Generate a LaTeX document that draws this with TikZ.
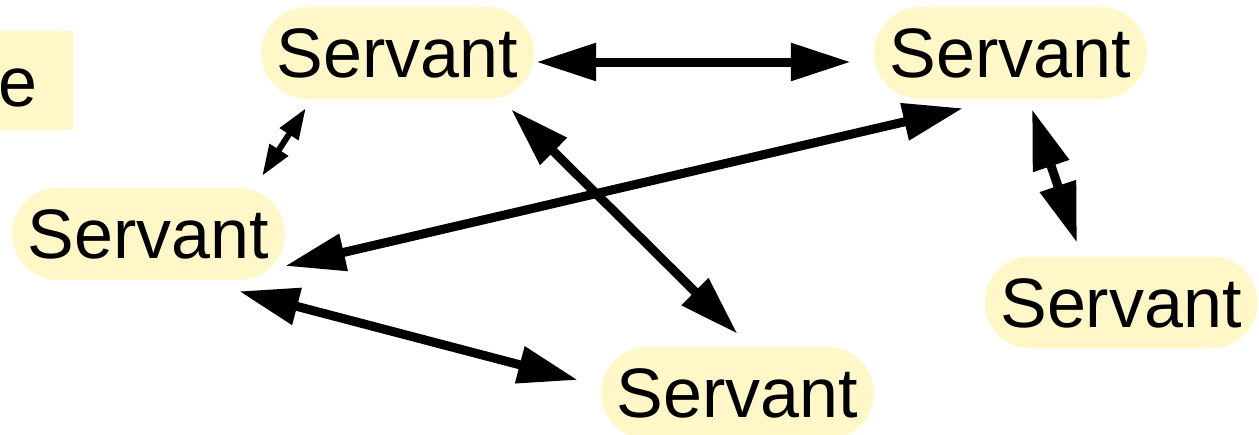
\documentclass[tikz,border=0pt]{standalone}
\usepackage{fontspec}
\setmainfont{Liberation Sans}
\usetikzlibrary{arrows.meta,calc}
\definecolor{pill}{RGB}{255,247,200}
\tikzset{
  servant/.style={rectangle, rounded corners=46pt, fill=pill, minimum width=273pt,
    minimum height=92pt, inner sep=0pt, text height=49pt, text depth=0pt,
    font=\fontsize{70}{80}\selectfont},
  biarrow/.style={line width=9pt, {Triangle[length=60pt,width=36pt]}-{Triangle[length=60pt,width=36pt]}},
  smallarrow/.style={line width=6pt, {Triangle[length=31pt,width=21pt]}-{Triangle[length=31pt,width=21pt]}},
  legendbox/.style={rectangle, fill=pill, minimum width=173pt, minimum height=99pt, inner sep=0pt},
  legendtext/.style={inner sep=0pt, font=\fontsize{70}{80}\selectfont}
}
\begin{document}
\begin{tikzpicture}[x=1pt,y=-1pt]
\useasboundingbox (0,0) rectangle (1259,434);
\clip (0,0) rectangle (1259,434);
\node[legendbox] (lbox) at (-13.5,80.5) {};
\node[legendtext, anchor=base west] (ltext) at (-1.5,106) {e};
\node[servant] (n1) at (397.5,53) {Servant};
\node[servant] (n2) at (1010.5,53) {Servant};
\node[servant] (n3) at (148.5,234) {Servant};
\node[servant] (n4) at (1121,302.5) {Servant};
\node[servant] (n5) at (737.5,393) {Servant};
% n1 <-> n2
\draw[biarrow] ($(n1.east)+(2,9)$) -- ($(n2.west)+(-23,9)$);
% n1 <-> n3 (small)
\draw[smallarrow] ($(n1.south west)+(45,9)$) -- ($(n3.north east)+(-23,-12)$);
% n2 <-> n3
\draw[biarrow] ($(n2.south)+(-47.5,9)$) -- ($(n3.east)+(0,32)$);
% n1 <-> n5
\draw[biarrow] ($(n1.south)+(113.5,10)$) -- ($(n5.north)+(0,-13)$);
% n2 <-> n4
\draw[biarrow] ($(n2.south)+(21.5,10)$) -- ($(n4.north)+(-44,-13.5)$);
% n3 <-> n5
\draw[biarrow] ($(n3.south)+(90.5,11)$) -- ($(n5.west)+(-23,-13)$);
\end{tikzpicture}
\end{document}
